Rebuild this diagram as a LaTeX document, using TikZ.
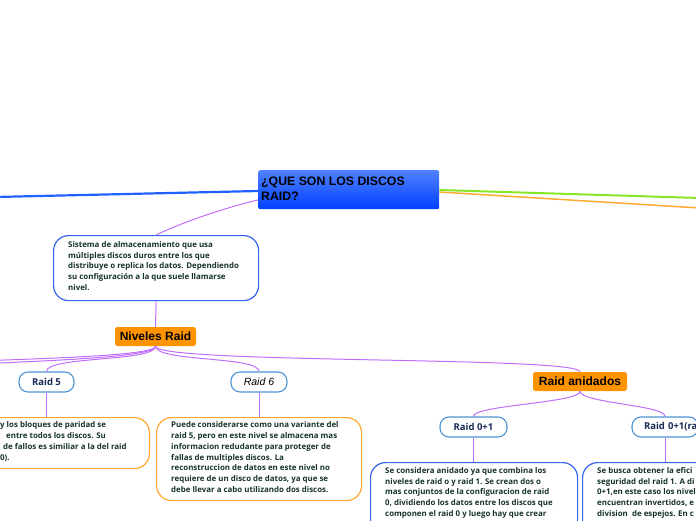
\documentclass[tikz,border=0pt]{standalone}
\usepackage{fontspec}
\setmainfont{Open Sans}
\newfontfamily\hdfont{Liberation Sans}
\definecolor{vio}{RGB}{190,110,250}
\definecolor{rootblue}{RGB}{32,96,255}
\definecolor{roottop}{RGB}{80,130,255}
\definecolor{rootbot}{RGB}{0,64,255}
\definecolor{lgreen}{RGB}{136,230,40}
\definecolor{lorange}{RGB}{255,170,50}
\definecolor{orf}{RGB}{255,148,0}
\definecolor{pillb}{RGB}{77,148,214}
\definecolor{navy}{RGB}{27,42,85}
\definecolor{dgreen}{RGB}{22,52,36}
\definecolor{boxblue}{RGB}{50,100,238}
\definecolor{boxorange}{RGB}{255,168,51}
\tikzset{
  conn/.style={draw=vio, line width=1pt},
  pill/.style={draw=pillb, line width=1.1pt, fill=white, rounded corners=9pt,
    minimum height=20pt, inner sep=0pt, font=\fontsize{9.5}{11}\selectfont\bfseries, text=navy},
  orbox/.style={fill=orf, rounded corners=2.5pt, minimum height=19pt, inner sep=0pt,
    font=\hdfont\fontsize{12}{14}\selectfont\bfseries, text=black},
  cbox/.style={line width=1.2pt, rounded corners=15pt, fill=white, inner sep=0pt},
  ctext/.style={font=\fontsize{7.9}{10.8}\selectfont\bfseries, text=dgreen, align=left, inner sep=0pt},
}
\begin{document}
\begin{tikzpicture}[x=1pt,y=-1pt]
\useasboundingbox (0,0) rectangle (696,520);
\clip (0,0) rectangle (696,520);

% root
\node[anchor=north west, minimum width=181pt, minimum height=39pt, inner sep=0pt,
  top color=roottop, bottom color=rootbot, rounded corners=2pt] (root) at (258,170) {};
\node[anchor=north west, align=left, inner sep=0pt, font=\hdfont\fontsize{12.3}{15}\selectfont\bfseries]
  (roottext) at (261,177) {¿QUE SON LOS DISCOS\\RAID?};

\coordinate (leftend) at (-5,197);
\coordinate (greenend) at (700,198);
\coordinate (orangeend) at (700,208);
\draw[rootblue, line width=2.2pt] (root.west |- 0,191) -- (leftend);
\draw[lgreen, line width=2pt] (root.east |- 0,190) -- (greenend);
\draw[lorange, line width=1.5pt] (root.east |- 0,192) -- (orangeend);

% description
\node[cbox, draw=boxblue, anchor=north west, minimum width=205pt, minimum height=65pt] (desc) at (53,235) {};
\node[ctext, anchor=north west] (desctext) at (68,241) {Sistema de almacenamiento que usa\\múltiples discos duros entre los que\\distribuye o replica los datos. Dependiendo\\su configuración a la que suele llamarse\\nivel.};
\draw[conn] (root.west |- 0,200) .. controls (228,207) and (185,221) .. (desc.north);

% Niveles Raid
\node[orbox, minimum width=81pt] (niv) at (155.5,336.5) {Niveles Raid};
\draw[conn] (desc.south) -- (niv.north);

% level 2 pills
\node[pill, minimum width=55pt] (r5) at (46.5,382) {Raid 5};
\node[pill, minimum width=56pt, font=\hdfont\fontsize{10.5}{12}\selectfont\itshape, text=black] (r6) at (259,382) {Raid 6};
\node[orbox, minimum width=94pt] (anid) at (580,381.5) {Raid anidados};

\coordinate (offA) at (-150,372);
\coordinate (offB) at (-260,372);
\draw[conn] (niv.south) .. controls (155.5,362) and (-60,362) .. (offA);
\draw[conn] (niv.south) .. controls (155.5,362) and (-150,360) .. (offB);
\draw[conn] (niv.south) .. controls (155.5,362) and (46.5,356) .. (r5.north);
\draw[conn] (niv.south) .. controls (155.5,362) and (259,356) .. (r6.north);
\draw[conn] (niv.south) .. controls (155.5,364) and (580,356) .. (anid.north);

% Raid 5 box
\node[cbox, draw=boxorange, anchor=north east, minimum width=220pt, minimum height=51pt] (r5box) at (150,417) {};
\node[ctext, anchor=north west] (r5text) at (0,421.5) {y los bloques de paridad se\\\hspace*{6pt}entre todos los discos. Su\\\hspace*{3pt}de fallos es similiar a la del raid\\0).};
\draw[conn] (r5.south) -- (r5box.north -| r5.south);

% Raid 6 box
\node[cbox, draw=boxorange, anchor=north west, minimum width=205pt, minimum height=83pt] (r6box) at (156,417) {};
\node[ctext, anchor=north west] (r6text) at (171,421.5) {Puede considerarse como una variante del\\raid 5, pero en este nivel se almacena mas\\informacion redudante para proteger de\\fallas de multiples discos. La\\reconstruccion de datos en este nivel no\\requiere de un disco de datos, ya que se\\debe llevar a cabo utilizando dos discos.};
\draw[conn] (r6.south) -- (r6box.north -| r6.south);

% nested
\node[pill, minimum width=67pt] (r01) at (473.5,427) {Raid 0+1};
\node[pill, minimum width=66pt, text width=42pt, align=left] (r01b) at (665,427) {\mbox{Raid 0+1(ra}};
\draw[conn] (anid.south) .. controls (580,403) and (473.5,405) .. (r01.north);
\draw[conn] (anid.south) .. controls (580,403) and (665,405) .. (r01b.north);

\node[cbox, draw=boxblue, anchor=north west, minimum width=207pt, minimum height=90pt] (r01box) at (370,462) {};
\node[ctext, anchor=north west] (r01text) at (385,467) {Se considera anidado ya que combina los\\niveles de raid o y raid 1. Se crean dos o\\mas conjuntos de la configuracion de raid\\0, dividiendo los datos entre los discos que\\componen el raid 0 y luego hay que crear};
\draw[conn] (r01.south) -- (r01box.north -| r01.south);

\node[cbox, draw=boxblue, anchor=north west, minimum width=207pt, minimum height=90pt] (r01bbox) at (582,462) {};
\node[ctext, anchor=north west] (r01btext) at (597,467) {Se busca obtener la efici\\seguridad del raid 1. A di\\0+1,en este caso los nivel\\encuentran invertidos, e\\division\ \ de espejos. En c};
\draw[conn] (r01b.south) -- (r01bbox.north -| r01b.south);
\end{tikzpicture}
\end{document}
